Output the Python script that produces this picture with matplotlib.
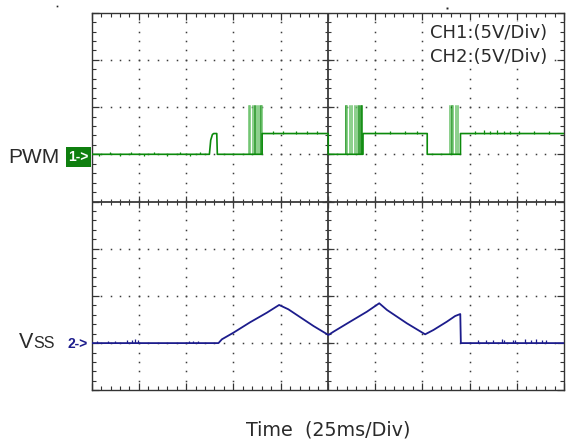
import numpy as np
import matplotlib
matplotlib.use("Agg")
import matplotlib.pyplot as plt
from matplotlib.patches import Rectangle
from matplotlib.lines import Line2D

# ---------------- data ----------------
MS_PER_DIV = 25.0
VOLTS_PER_DIV = 5.0
CH1_OFFSET_DIV = 1.0     # PWM zero level (divisions above centre)
CH2_OFFSET_DIV = -3.0    # Vss zero level

# PWM level trace (time ms, volts)
pwm_t = [0, 62.3, 63.0, 63.9, 64.6, 66.2, 66.5, 90.2, 90.2, 125.2, 125.2,
         143.6, 143.6, 177.6, 177.6, 195.2, 195.2, 250]
pwm_v = [0, 0, 1.5, 2.1, 2.2, 2.2, 0, 0, 2.2, 2.2, 0,
         0, 2.2, 2.2, 0, 0, 2.2, 2.2]
# PWM burst spikes (time ms), spike height (V)
pwm_spike_t = [83.2, 84.0, 85.3, 86.3, 87.4, 88.5, 89.5, 90.2,
               134.7, 135.4, 136.8, 137.9, 139.3, 140.4, 141.4, 142.5, 143.2,
               189.6, 190.5, 191.5, 193.0, 193.7]
pwm_spike_dark = [86.3, 89.5, 134.7, 141.4, 142.5, 143.2, 190.5]
pwm_spike_v = 5.1
# small noise blips on the PWM trace (time ms, level V, blip V)
pwm_blip_t = [4.0, 9.5, 15.0, 21.0, 27.5, 33.0, 40.0, 46.5, 52.0, 57.5,
              96.0, 101.5, 108.0, 114.0, 119.5, 150.0, 158.0, 166.0, 172.0,
              203.0, 207.5, 211.0, 214.5, 218.0, 221.5, 226.0, 234.0, 242.0]
pwm_blip_base = [0] * 10 + [2.2] * 18
pwm_blip_v = [-0.2, 0.2, -0.2, 0.2, -0.2, 0.25, -0.2, 0.2, -0.2, 0.25,
              0.25, 0.3, 0.25, 0.3, 0.25, 0.25, 0.25, 0.3, 0.25,
              0.3, 0.35, 0.3, 0.35, 0.3, 0.3, 0.25, 0.25, 0.25]

# Vss trace (time ms, volts)
vss_t = [0, 67.1, 68.9, 75.0, 83.8, 92.7, 99.2, 104.1, 108.6, 117.4, 125.3,
         128.0, 136.8, 145.7, 152.2, 156.3, 166.8, 176.5, 180.9, 188.0, 192.4,
         195.1, 195.4, 250]
vss_v = [0, 0, 0.40, 1.10, 2.20, 3.22, 4.04, 3.58, 2.98, 1.81, 0.86,
         1.21, 2.27, 3.33, 4.22, 3.51, 2.10, 0.93, 1.39, 2.27, 2.87,
         3.08, 0, 0]
# small noise blips on the Vss baseline (time ms, height V)
vss_blip_t = [2.6, 8.6, 12.3, 18.5, 21.1, 22.9, 24.6, 51.6, 53.5, 56.2,
              204.6, 208.8, 212.6, 217.3, 218.1, 223.1, 223.8, 229.6, 232.3,
              235.3, 238.5, 240.4]
vss_blip_v = [0.25, 0.25, 0.2, 0.3, 0.3, 0.4, 0.3, 0.25, 0.25, 0.25,
              0.3, 0.3, 0.3, 0.4, 0.3, 0.3, 0.3, 0.4, 0.3, 0.45, 0.3, 0.3]

ch_labels = ["CH1:(5V/Div)", "CH2:(5V/Div)"]
x_label = "Time  (25ms/Div)"
n_xdiv, n_ydiv = 10, 8

# ---------------- figure ----------------
W, H = 566, 440
fig = plt.figure(figsize=(W / 100, H / 100), dpi=100)
L, R, T, B = 91.7, 564.0, 12.7, 390.3
ax = fig.add_axes([L / W, 1 - B / H, (R - L) / W, (B - T) / H])
ax.set_xlim(0, n_xdiv)
ax.set_ylim(-n_ydiv / 2, n_ydiv / 2)

def fx(x):
    return x / W

def fy(y):
    return 1 - y / H

gridc = "#3c3c3c"
# dotted grid
for gx in range(1, n_xdiv):
    if gx == n_xdiv // 2:
        continue
    ys = np.arange(-n_ydiv / 2 + 0.2, n_ydiv / 2, 0.2)
    ax.plot(np.full_like(ys, gx), ys, ls="none", marker="s", ms=1.1,
            mew=0, color=gridc, zorder=1)
for gy in range(-n_ydiv // 2 + 1, n_ydiv // 2):
    if gy == 0:
        continue
    xs = np.arange(0.2, n_xdiv, 0.2)
    ax.plot(xs, np.full_like(xs, gy), ls="none", marker="s", ms=1.1,
            mew=0, color=gridc, zorder=1)

# centre lines with ticks
cc = "#3a3a3a"
ax.axvline(n_xdiv / 2, color=cc, lw=1.3, zorder=2)
ax.axhline(0, color=cc, lw=1.3, zorder=2)
yt = np.arange(-n_ydiv / 2, n_ydiv / 2 + 0.01, 0.2)
ax.plot(np.full_like(yt, 5), yt, ls="none", marker="_", ms=4.6, mew=0.8,
        color=cc, zorder=2)
ytm = np.arange(-n_ydiv / 2 + 1, n_ydiv / 2, 1.0)
ax.plot(np.full_like(ytm, 5), ytm, ls="none", marker="_", ms=8.5, mew=0.9,
        color=cc, zorder=2)
xt = np.arange(0, n_xdiv + 0.01, 0.2)
ax.plot(xt, np.zeros_like(xt), ls="none", marker="|", ms=4.6, mew=0.8,
        color=cc, zorder=2)
xtm = np.arange(1, n_xdiv, 1.0)
ax.plot(xtm, np.zeros_like(xtm), ls="none", marker="|", ms=8.5, mew=0.9,
        color=cc, zorder=2)

# border ticks
ax.set_xticks(np.arange(0, n_xdiv + 1, 1))
ax.set_xticks(np.arange(0, n_xdiv + 0.01, 0.2), minor=True)
ax.set_yticks(np.arange(-n_ydiv / 2, n_ydiv / 2 + 1, 1))
ax.set_yticks(np.arange(-n_ydiv / 2, n_ydiv / 2 + 0.01, 0.2), minor=True)
ax.tick_params(which="both", direction="in", top=True, right=True,
               labelbottom=False, labelleft=False, color="#333333")
ax.tick_params(which="major", length=5.2, width=0.9)
ax.tick_params(which="minor", length=2.6, width=0.8)
for s in ax.spines.values():
    s.set_color("#333333")
    s.set_linewidth(1.0)

# ---------------- traces ----------------
def tx(t):
    return np.asarray(t, float) / MS_PER_DIV

def vy(v, off):
    return off + np.asarray(v, float) / VOLTS_PER_DIV

green = "#0b8a0b"
lightgreen = "#6cc26c"
for st in pwm_spike_t:
    c = green if st in pwm_spike_dark else lightgreen
    ax.plot(tx([st, st]), vy([0, pwm_spike_v], CH1_OFFSET_DIV), color=c,
            lw=1.1, zorder=3)
ax.plot(tx(pwm_t), vy(pwm_v, CH1_OFFSET_DIV), color=green, lw=1.2, zorder=4)
base = np.asarray(pwm_blip_base, float)
ax.vlines(tx(pwm_blip_t), vy(base, CH1_OFFSET_DIV),
          vy(base + np.asarray(pwm_blip_v), CH1_OFFSET_DIV),
          color=green, lw=0.9, zorder=4)

navy = "#1c1c8c"
ax.plot(tx(vss_t), vy(vss_v, CH2_OFFSET_DIV), color=navy, lw=1.3, zorder=4)
ax.vlines(tx(vss_blip_t), CH2_OFFSET_DIV,
          vy(vss_blip_v, CH2_OFFSET_DIV), color=navy, lw=0.9, zorder=4)

# ---------------- texts ----------------
txtc = "#2a2a2a"
fig.text(fx(60), fy(162.7), "PWM", fontsize=15, family="Liberation Sans",
         ha="right", va="baseline", color=txtc)
fig.patches.append(Rectangle((fx(65.7), fy(167.3)), fx(91) - fx(65.7),
                             fy(146.7) - fy(167.3), transform=fig.transFigure,
                             facecolor="#0f7f0f", edgecolor="none"))
fig.text(fx(78.5), fy(157), "1->", fontsize=10, family="Liberation Sans",
         weight="bold", ha="center", va="center", color="white")

fig.text(fx(33), fy(347.7), "V", fontsize=15.5, family="Liberation Sans",
         ha="right", va="baseline", color=txtc)
fig.text(fx(33), fy(347.7), "SS", fontsize=11.5, family="Liberation Sans",
         ha="left", va="baseline", color=txtc)
fig.text(fx(78), fy(344), "2->", fontsize=10, family="Liberation Sans",
         weight="bold", ha="center", va="center", color=navy)

for lab, yc in zip(ch_labels, [32.5, 56.5]):
    fig.text(fx(430), fy(yc), lab, fontsize=13, family="DejaVu Sans",
             ha="left", va="center", color=txtc,
             bbox=dict(facecolor="white", edgecolor="none", pad=1.0))

fig.text(fx(328), fy(435.5), x_label, fontsize=13.8, family="DejaVu Sans",
         ha="center", va="baseline", color=txtc)

# small stray dots at the top of the original screenshot
fig.lines.append(Line2D([fx(57)], [fy(6)], transform=fig.transFigure,
                        marker="s", ms=1.2, mew=0, color="#222222", ls="none"))
fig.lines.append(Line2D([fx(447)], [fy(8)], transform=fig.transFigure,
                        marker="s", ms=1.4, mew=0, color="#222222", ls="none"))

fig.savefig("out.png", dpi=100)
